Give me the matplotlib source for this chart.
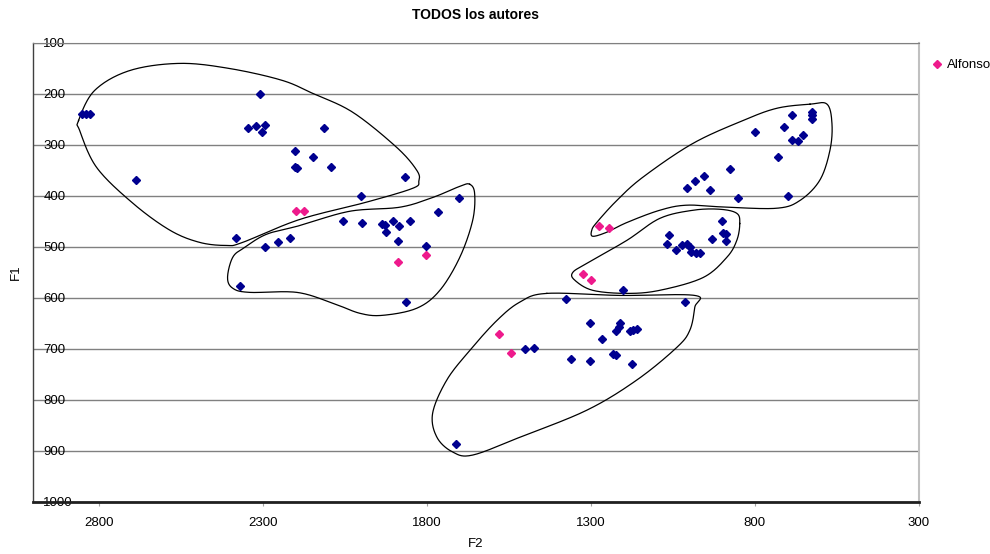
import numpy as np
import matplotlib
matplotlib.use("Agg")
import matplotlib.pyplot as plt

plt.rcParams['font.family'] = ['Liberation Sans', 'DejaVu Sans']

# Formant values (F2, F1) in Hz
todos_f2 = [2850, 2838, 2825, 2687, 2309, 2345, 2319, 2294, 2302, 2114, 2202, 2147,
            2202, 2194, 2091, 1865, 2001, 1702, 1766, 2055, 1996, 1936, 1928, 1903,
            1885, 1850, 1923, 1889, 1801, 2382, 2292, 2253, 2216, 2368, 1862,
            627, 627, 627, 688, 712, 800, 653, 686, 670, 729, 876, 955, 981, 1008,
            937, 851, 700,
            900, 1062, 897, 889, 932, 889, 1069, 1022, 1006, 1039, 998, 995, 980, 966,
            1203, 1376, 1013,
            1301, 1212, 1215, 1222, 1181, 1171, 1159, 1265, 1501, 1473, 1232, 1222,
            1361, 1301, 1174, 1712]
todos_f1 = [240, 240, 240, 368, 200, 267, 263, 260, 274, 266, 312, 323,
            343, 346, 344, 363, 400, 404, 431, 449, 453, 454, 457, 449,
            459, 450, 471, 488, 499, 482, 501, 491, 482, 576, 608,
            236, 242, 250, 242, 265, 275, 281, 290, 292, 324, 348, 360, 371, 384,
            389, 404, 400,
            449, 477, 472, 475, 485, 489, 495, 497, 495, 505, 500, 510, 511, 511,
            585, 602, 607,
            650, 649, 657, 665, 665, 663, 661, 680, 701, 699, 709, 711,
            720, 724, 729, 886]

alfonso_f2 = [2197, 2175, 1889, 1803, 1276, 1246, 1325, 1298, 1580, 1542]
alfonso_f1 = [430, 430, 530, 516, 458, 462, 552, 565, 671, 708]

x_ticks = [2800, 2300, 1800, 1300, 800, 300]
y_ticks = [100, 200, 300, 400, 500, 600, 700, 800, 900, 1000]

# Hand-drawn vowel regions (F2, F1 outline points)
regions = [
    [(2861, 252), (2858, 271), (2806, 344), (2696, 414), (2583, 467), (2492, 491),
     (2410, 497), (2361, 491), (2187, 446), (1983, 412), (1843, 385), (1824, 371),
     (1830, 350), (1891, 305), (2025, 236), (2147, 199), (2242, 173), (2401, 150),
     (2553, 140), (2705, 154), (2812, 193)],
    [(1669, 377), (1699, 381), (1782, 403), (1882, 422), (2035, 430), (2187, 458),
     (2288, 475), (2355, 501), (2391, 520), (2407, 560), (2391, 581), (2340, 589),
     (2196, 589), (2087, 610), (2004, 630), (1934, 634), (1830, 620), (1760, 585),
     (1699, 520), (1660, 448), (1654, 395)],
    [(632, 220), (580, 220), (565, 258), (571, 310), (602, 369), (663, 409),
     (733, 424), (885, 422), (1007, 418), (1090, 428), (1190, 452), (1251, 471),
     (1294, 479), (1297, 467), (1282, 452), (1221, 409), (1141, 363), (989, 297),
     (836, 252), (733, 228)],
    [(846, 454), (855, 487), (885, 520), (958, 560), (1090, 585), (1190, 591),
     (1294, 585), (1349, 565), (1355, 550), (1312, 532), (1190, 487), (1090, 444),
     (989, 428), (907, 426), (855, 434)],
    [(1434, 591), (1211, 595), (983, 595), (983, 618), (998, 663), (1038, 697),
     (1160, 761), (1312, 820), (1516, 873), (1660, 908), (1721, 902), (1769, 873),
     (1782, 826), (1739, 761), (1669, 703), (1586, 644), (1516, 608)],
]


def closed_catmull_rom(points, steps=24):
    pts = np.asarray(points, dtype=float)
    n = len(pts)
    out = []
    t = np.linspace(0, 1, steps, endpoint=False)[:, None]
    for i in range(n):
        p0, p1, p2, p3 = pts[(i - 1) % n], pts[i], pts[(i + 1) % n], pts[(i + 2) % n]
        seg = 0.5 * ((2 * p1) + (-p0 + p2) * t + (2 * p0 - 5 * p1 + 4 * p2 - p3) * t ** 2
                     + (-p0 + 3 * p1 - 3 * p2 + p3) * t ** 3)
        out.append(seg)
    out = np.vstack(out)
    return np.vstack([out, out[:1]])


fig = plt.figure(figsize=(9.9, 5.54), dpi=100)
ax = fig.add_axes([0.0333, 0.0939, 0.8949, 0.8285])

ax.set_xlim(3000, 300)
ax.set_ylim(1000, 100)

ax.set_yticks(y_ticks)
ax.set_xticks(x_ticks)
ax.yaxis.grid(True, color='#808080', linewidth=1.0)
ax.set_axisbelow(True)

for pts in regions:
    curve = closed_catmull_rom(pts)
    ax.plot(curve[:, 0], curve[:, 1], color='black', linewidth=0.9, zorder=2)

ax.plot(todos_f2, todos_f1, linestyle='none', marker='D', markersize=4.5,
        color='#000090', zorder=3)
ax.plot(alfonso_f2, alfonso_f1, linestyle='none', marker='D', markersize=4.5,
        color='#ee1a8c', zorder=4, label='Alfonso')

ax.spines['top'].set_color('#808080')
ax.spines['left'].set_color('#404040')
ax.spines['left'].set_linewidth(1.0)
ax.spines['right'].set_color('#c0c0c0')
ax.spines['right'].set_linewidth(1.5)
ax.spines['bottom'].set_color('#202020')
ax.spines['bottom'].set_linewidth(2.0)

ax.tick_params(axis='y', length=0, pad=-7.5, labelsize=9.5)
for lbl in ax.get_yticklabels():
    lbl.set_horizontalalignment('left')
ax.tick_params(axis='x', length=3, color='#a0a0a0', pad=8, labelsize=9.5)

ax.set_title('TODOS los autores', fontsize=10, fontweight='bold', pad=17)
ax.set_xlabel('F2', fontsize=9.5, labelpad=6)
ax.set_ylabel('F1', fontsize=9.5, labelpad=8)

fig.legend(loc='upper left', bbox_to_anchor=(0.93, 0.915), frameon=False,
           fontsize=9.5, handlelength=0.6, handletextpad=0.5, markerscale=0.9)

fig.savefig('out.png', dpi=100)
